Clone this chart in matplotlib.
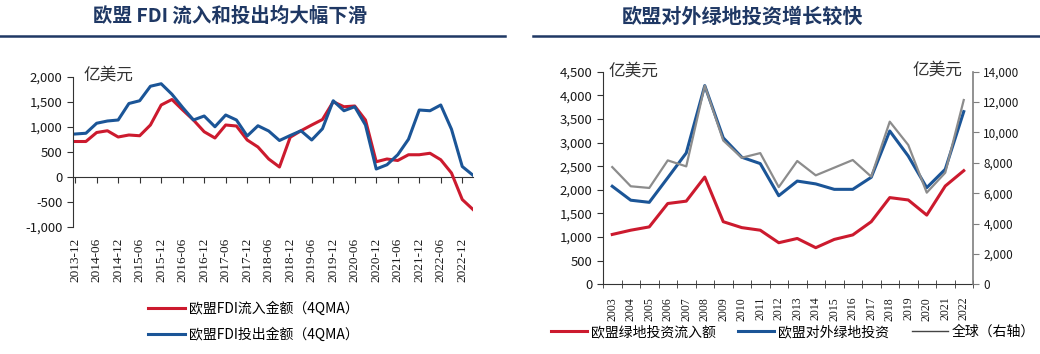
import matplotlib
matplotlib.use("Agg")
import matplotlib.pyplot as plt
from matplotlib.lines import Line2D
from matplotlib.ticker import FuncFormatter
import numpy as np

plt.rcParams['font.family'] = ['Noto Sans CJK SC', 'DejaVu Sans']

# ---------------- data: left chart (quarterly, 4QMA, 亿美元) ----------------
quarters = ["2013-12", "2014-03", "2014-06", "2014-09", "2014-12", "2015-03",
            "2015-06", "2015-09", "2015-12", "2016-03", "2016-06", "2016-09",
            "2016-12", "2017-03", "2017-06", "2017-09", "2017-12", "2018-03",
            "2018-06", "2018-09", "2018-12", "2019-03", "2019-06", "2019-09",
            "2019-12", "2020-03", "2020-06", "2020-09", "2020-12", "2021-03",
            "2021-06", "2021-09", "2021-12", "2022-03", "2022-06", "2022-09",
            "2022-12", "2023-03"]
fdi_inflow = [710, 710, 890, 925, 800, 840, 825, 1040, 1440, 1550, 1340, 1140,
              905, 780, 1040, 1020, 740, 600, 360, 200, 795, 925, 1040, 1150,
              1505, 1405, 1420, 1140, 305, 360, 330, 445, 445, 475, 345, 80,
              -450, -650]
fdi_outflow = [860, 875, 1075, 1120, 1140, 1470, 1525, 1815, 1865, 1655, 1390,
               1140, 1220, 1005, 1240, 1140, 820, 1025, 920, 730, 830, 925, 740,
               965, 1525, 1325, 1405, 1040, 160, 245, 445, 755, 1340, 1325, 1440,
               955, 210, 35]

# ---------------- data: right chart (annual, 亿美元) ----------------
years = list(range(2003, 2023))
eu_greenfield_in = [1055, 1145, 1215, 1710, 1760, 2270, 1325, 1200, 1145, 880,
                    970, 775, 950, 1045, 1325, 1835, 1785, 1465, 2080, 2405]
eu_greenfield_out = [2075, 1780, 1735, 2255, 2780, 4205, 3100, 2690, 2555, 1875,
                     2185, 2125, 2010, 2010, 2265, 3245, 2715, 2045, 2435, 3655]
global_greenfield = [7720, 6455, 6345, 8160, 7765, 13080, 9470, 8335, 8640, 6400,
                     8120, 7175, 7680, 8185, 7090, 10710, 9175, 6035, 7350, 12135]

RED = '#CC1A2E'
BLUE = '#1B5597'
GRAY = '#8C8C8C'
NAVY = '#1F3864'
TXT = '#1a1a1a'

W, H = 1040, 354
fig = plt.figure(figsize=(W / 100, H / 100), dpi=100)


def fx(px):
    return px / W


def fy(py):
    return 1 - py / H


thousands = FuncFormatter(lambda v, p: f'{int(v):,}')

# ---------------- titles ----------------
fig.text(fx(230), fy(16), '欧盟 FDI 流入和投出均大幅下滑', ha='center', va='center',
         fontsize=14, fontweight='bold', color=NAVY)
fig.text(fx(742), fy(16), '欧盟对外绿地投资增长较快', ha='center', va='center',
         fontsize=14.5, fontweight='bold', color=NAVY)
fig.add_artist(Line2D([0, fx(505)], [fy(36), fy(36)], transform=fig.transFigure,
                      color=NAVY, lw=1.8))
fig.add_artist(Line2D([fx(533), 1], [fy(36), fy(36)], transform=fig.transFigure,
                      color=NAVY, lw=1.8))

# ---------------- left chart ----------------
ax1 = fig.add_axes([fx(73), fy(227), fx(400), 150 / H])
xq = np.arange(len(quarters))
l1, = ax1.plot(xq, fdi_inflow, color=RED, lw=2.2, label='欧盟FDI流入金额（4QMA）')
l2, = ax1.plot(xq, fdi_outflow, color=BLUE, lw=2.2, label='欧盟FDI投出金额（4QMA）')
ax1.set_xlim(-0.2, 37)
ax1.set_ylim(-1000, 2000)
ax1.set_yticks(range(-1000, 2001, 500))
ax1.yaxis.set_major_formatter(thousands)
ax1.set_xticks(xq[::2])
ax1.set_xticklabels(quarters[::2], rotation=90, family='Liberation Serif',
                    fontsize=9.5, color=TXT)
ax1.tick_params(axis='x', length=0, pad=8)
ax1.tick_params(axis='y', direction='out', length=4, labelsize=9.5,
                labelcolor=TXT, color='#333333')
for s in ['top', 'right', 'bottom']:
    ax1.spines[s].set_visible(False)
ax1.spines['left'].set_color('#333333')
sec = ax1.secondary_xaxis(1 / 3)
sec.set_xticks(xq[::2])
sec.set_xticklabels([])
sec.tick_params(direction='out', length=4, color='#333333')
sec.spines['bottom'].set_color('#333333')
fig.text(fx(83), fy(75), '亿美元', ha='left', va='center', fontsize=12, color='#333333')

fig.legend(handles=[l1, l2], loc='center', bbox_to_anchor=(fx(253), fy(322)),
           frameon=False, fontsize=10, handlelength=2.7, handletextpad=0.25,
           labelspacing=0.85)

# ---------------- right chart ----------------
ax2 = fig.add_axes([fx(603), fy(284.3), fx(370), 212.6 / H])
r1, = ax2.plot(years, eu_greenfield_in, color=RED, lw=2.2, label='欧盟绿地投资流入额')
r2, = ax2.plot(years, eu_greenfield_out, color=BLUE, lw=2.2, label='欧盟对外绿地投资')
ax2.set_xlim(2002.5, 2022.5)
ax2.set_ylim(0, 4500)
ax2.set_yticks(range(0, 4501, 500))
ax2.yaxis.set_major_formatter(thousands)
ax2.set_xticks(years)
ax2.set_xticklabels([str(y) for y in years], rotation=90, family='Liberation Serif',
                    fontsize=8.5, color=TXT)
ax2.set_xticks(np.arange(2002.5, 2023, 1), minor=True)
ax2.tick_params(axis='x', which='major', length=0, pad=9)
ax2.tick_params(axis='x', which='minor', direction='inout', length=6, color='#333333')
ax2.tick_params(axis='y', direction='out', length=4, labelsize=9.5,
                labelcolor=TXT, color='#333333')
ax2.spines['top'].set_visible(False)
ax2.spines['right'].set_visible(False)
ax2.spines['left'].set_color('#333333')
ax2.spines['bottom'].set_color('#333333')

ax3 = ax2.twinx()
r3, = ax3.plot(years, global_greenfield, color=GRAY, lw=1.6, label='全球（右轴）')
ax3.set_ylim(0, 14000)
ax3.set_yticks(range(0, 14001, 2000))
ax3.yaxis.set_major_formatter(thousands)
ax3.tick_params(axis='y', direction='out', length=4, labelsize=8.5,
                labelcolor=TXT, color='#7f7f7f')
for s in ['top', 'left', 'bottom']:
    ax3.spines[s].set_visible(False)
ax3.spines['right'].set_color('#7f7f7f')
ax3.spines['right'].set_linewidth(1.2)

fig.text(fx(608), fy(71), '亿美元', ha='left', va='center', fontsize=12, color='#333333')
fig.text(fx(962), fy(70), '亿美元', ha='right', va='center', fontsize=12, color='#333333')

leg_g = Line2D([], [], color='#444444', lw=1.0)
fig.legend(handles=[r1, r2, leg_g], labels=['欧盟绿地投资流入额', '欧盟对外绿地投资', '全球（右轴）'],
           loc='center', bbox_to_anchor=(fx(793), fy(332)), ncol=3, frameon=False,
           fontsize=10, handlelength=2.6, handletextpad=0.3, columnspacing=1.6)

fig.savefig('out.png', dpi=100)
